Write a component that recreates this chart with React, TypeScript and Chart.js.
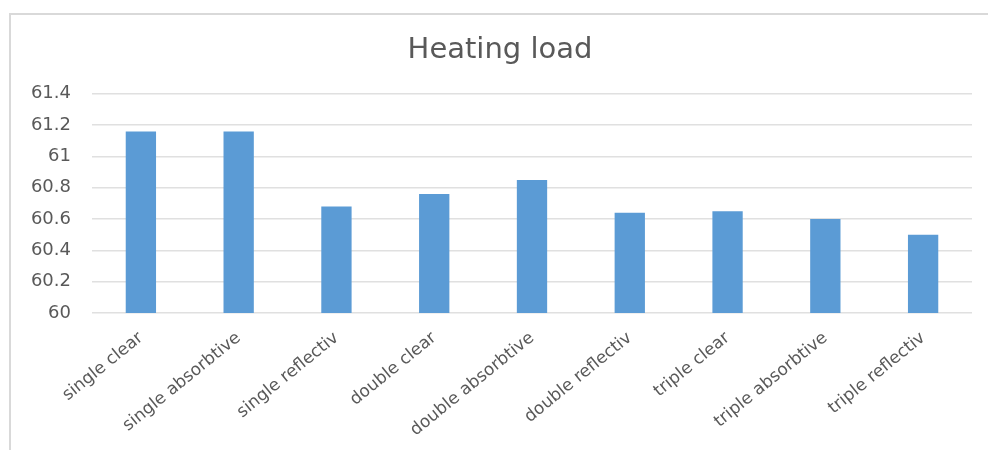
import React, { useEffect, useRef } from "react";
import { Chart, registerables } from "chart.js";

Chart.register(...registerables);

// Glazing options and their heating load
const categories = [
  "single clear",
  "single absorbtive",
  "single reflectiv",
  "double clear",
  "double absorbtive",
  "double reflectiv",
  "triple clear",
  "triple absorbtive",
  "triple reflectiv",
];
const heatingLoad = [61.16, 61.16, 60.68, 60.76, 60.85, 60.64, 60.65, 60.6, 60.5];

const yMin = 60;
const yMax = 61.4;
const yStep = 0.2;

const FONT = "'DejaVu Sans', sans-serif";
const TEXT = "#595959";
const GRID = "#e0e0e0";
const BAR = "#5B9BD5";

export default function App() {
  const canvasRef = useRef<HTMLCanvasElement | null>(null);

  useEffect(() => {
    const canvas = canvasRef.current;
    if (!canvas) return;
    const chart = new Chart(canvas, {
      type: "bar",
      data: {
        labels: categories,
        datasets: [
          {
            label: "Heating load",
            data: heatingLoad,
            backgroundColor: BAR,
            barPercentage: 0.31,
            categoryPercentage: 1,
          },
        ],
      },
      options: {
        animation: false,
        responsive: false,
        devicePixelRatio: 1,
        layout: { padding: { left: 28, right: 16, top: 0, bottom: 0 } },
        plugins: {
          legend: { display: false },
          tooltip: { enabled: false },
          title: {
            display: true,
            text: "Heating load",
            color: TEXT,
            font: { family: FONT, size: 29, weight: "normal" },
            padding: { top: 33, bottom: 26 },
          },
        },
        scales: {
          x: {
            grid: { display: false, drawTicks: false },
            border: { display: false },
            ticks: {
              color: TEXT,
              font: { family: FONT, size: 17 },
              minRotation: 39,
              maxRotation: 39,
              autoSkip: false,
              padding: 15,
            },
            afterFit: (scale: any) => {
              scale.height = 137;
            },
          },
          y: {
            min: yMin,
            max: yMax,
            grid: { color: GRID, lineWidth: 1.5, drawTicks: false },
            border: { display: false },
            ticks: {
              stepSize: yStep,
              color: TEXT,
              font: { family: FONT, size: 18 },
              padding: 21,
              callback: (v: any) => String(parseFloat(Number(v).toFixed(1))),
            },
            afterFit: (scale: any) => {
              scale.width = 64;
            },
          },
        },
      },
    });
    return () => chart.destroy();
  }, []);

  return (
    <div
      style={{
        position: "fixed",
        left: 0,
        top: 0,
        width: 988,
        height: 450,
        overflow: "hidden",
        background: "#ffffff",
      }}
    >
      <div
        style={{
          position: "absolute",
          left: 9,
          top: 13,
          width: 1000,
          height: 500,
          borderTop: "2px solid #d9d9d9",
          borderLeft: "2px solid #d9d9d9",
        }}
      />
      <canvas
        ref={canvasRef}
        width={988}
        height={450}
        style={{ position: "absolute", left: 0, top: 0 }}
      />
    </div>
  );
}
